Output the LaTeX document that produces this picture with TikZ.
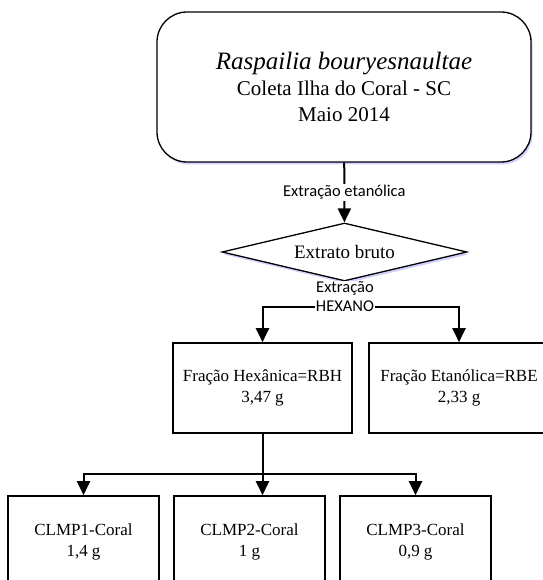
\documentclass[tikz,border=0pt]{standalone}
\usepackage{fontspec}
\setmainfont{Liberation Serif}
\newfontfamily\calibri{Carlito}
\usetikzlibrary{arrows.meta, positioning, shapes.geometric, shadows, calc}

\begin{document}
\begin{tikzpicture}[x=1pt, y=-1pt,
        box/.style={draw, rectangle, line width=1.6pt, align=center, font=\fontsize{17}{21}\selectfont},
        arr/.style={-{Triangle[width=13pt, length=14pt]}, line width=2pt},
        lbl/.style={fill=white, inner sep=1pt, align=center, font=\calibri\fontsize{16.5}{19}\selectfont},
        sombra/.style={drop shadow={shadow xshift=1.5pt, shadow yshift=-2.5pt, fill=blue!18, opacity=1}}]
        \useasboundingbox (0,0) rectangle (542,580);

        % Node for the sample
        \node[draw, rounded corners=30pt, line width=1.3pt, fill=white, sombra, minimum width=374pt, minimum height=150pt, align=center, font=\fontsize{21}{26}\selectfont] (amostra) at (344,87) {{\fontsize{25}{26}\selectfont\itshape Raspailia bouryesnaultae}\\Coleta Ilha do Coral - SC\\Maio 2014};

        % Crude extract
        \node[draw, diamond, aspect=4.2, inner sep=0pt, minimum width=245pt, minimum height=58pt, line width=1.3pt, fill=white, sombra, font=\fontsize{19}{22}\selectfont] (bruto) at (344.5,252) {Extrato bruto};

        % Fractions
        \node[box, minimum width=179pt, minimum height=90pt] (rbh) at (262.5,388) {Fração Hexânica=RBH\\3,47 g};
        \node[box, minimum width=180pt, minimum height=90pt] (rbe) at (459,388) {Fração Etanólica=RBE\\2,33 g};

        % Sub-fractions
        \node[box, minimum width=151pt, minimum height=92pt] (c1) at (83.5,542) {CLMP1-Coral\\1,4 g};
        \node[box, minimum width=151pt, minimum height=92pt] (c2) at (249.5,542) {CLMP2-Coral\\1 g};
        \node[box, minimum width=151pt, minimum height=92pt] (c3) at (415.5,542) {CLMP3-Coral\\0,9 g};

        % Arrows
        \draw[arr] (amostra) -- (bruto) node[lbl, midway] (etanol) {Extração etanólica};
        \coordinate (split) at (361,307);
        \draw[arr] (split) -| (rbh.north);
        \draw[arr] (split) -| (rbe.north);
        \node[lbl] (hexano) at (345,297) {Extração\\HEXANO};

        \coordinate (fork) at (rbh.south |- 0,474);
        \draw[line width=2pt] (rbh.south) -- (fork);
        \draw[arr] (fork) -| (c1.north);
        \draw[arr] (fork) -- (fork |- c2.north);
        \draw[arr] (fork) -| (c3.north);
    \end{tikzpicture}
\end{document}
